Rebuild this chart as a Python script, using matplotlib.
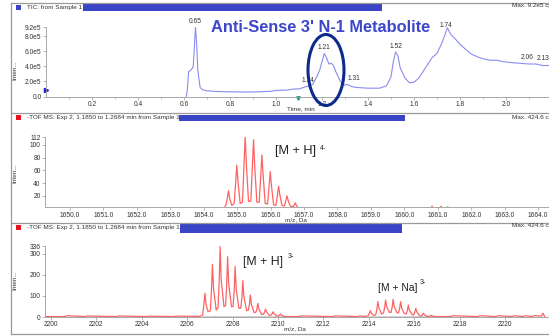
import numpy as np
import matplotlib
matplotlib.use("Agg")
import matplotlib.pyplot as plt
from matplotlib.patches import Rectangle, Ellipse
from matplotlib.lines import Line2D

plt.rcParams['font.family'] = ['Liberation Sans', 'DejaVu Sans']

# TIC chromatogram (time in min, intensity in cps)
tic_time = [0.610, 0.615, 0.620, 0.630, 0.640, 0.645, 0.650, 0.655, 0.660, 0.670,
            0.680, 0.700, 0.750, 0.800, 0.850, 0.900, 0.950, 0.980, 1.000, 1.050,
            1.080, 1.100, 1.140, 1.160, 1.180, 1.190, 1.200, 1.210, 1.220, 1.230,
            1.240, 1.250, 1.260, 1.280, 1.300, 1.310, 1.330, 1.350, 1.400, 1.450,
            1.480, 1.500, 1.510, 1.520, 1.530, 1.540, 1.560, 1.580, 1.600, 1.620,
            1.650, 1.680, 1.700, 1.720, 1.735, 1.745, 1.760, 1.780, 1.800, 1.830,
            1.850, 1.880, 1.900, 1.930, 1.960, 1.990, 2.020, 2.060, 2.100, 2.130,
            2.160, 2.190]
tic_int = [0.0, 1.0, 3.3, 3.5, 3.9, 6.5, 9.2, 7.0, 3.5, 1.2,
           0.9, 0.75, 0.65, 0.62, 0.6, 0.6, 0.65, 0.7, 0.8, 0.85,
           1.0, 1.0, 1.4, 1.6, 2.8, 3.5, 4.6, 5.7, 5.1, 4.3,
           4.4, 4.1, 3.3, 2.0, 1.5, 1.6, 1.3, 1.2, 1.1, 1.1,
           1.4, 2.6, 4.6, 5.9, 5.4, 3.8, 2.5, 1.8, 1.9, 2.4,
           3.8, 5.2, 5.7, 7.0, 8.2, 9.1, 8.2, 7.6, 6.9, 6.1,
           5.6, 5.2, 5.0, 4.8, 4.8, 4.6, 4.5, 4.4, 4.3, 4.3,
           4.1, 4.1]
tic_int = [v * 1e5 for v in tic_int]
tic_peaks = [0.65, 1.14, 1.21, 1.31, 1.52, 1.74, 2.06, 2.13]

# [M + H] 4- isotope cluster
ms4_mz = [1649.30, 1654.60, 1654.66, 1654.70, 1654.74, 1654.78, 1654.84,
          1654.91, 1654.95, 1654.99, 1655.03, 1655.09,
          1655.16, 1655.20, 1655.24, 1655.28, 1655.34,
          1655.41, 1655.45, 1655.49, 1655.53, 1655.59,
          1655.66, 1655.70, 1655.74, 1655.78, 1655.84,
          1655.91, 1655.95, 1655.99, 1656.03, 1656.09,
          1656.16, 1656.20, 1656.24, 1656.28, 1656.34,
          1656.41, 1656.45, 1656.49, 1656.53, 1656.59,
          1656.68, 1656.71, 1656.74, 1656.77, 1656.85,
          1660.80, 1660.83, 1660.86, 1661.08, 1661.10, 1661.12,
          1661.28, 1661.30, 1661.32, 1664.30]
ms4_int = [0, 0, 5, 14, 28, 15, 5,
           8, 36, 68, 40, 8,
           10, 62, 113, 66, 11,
           12, 60, 108, 62, 10,
           10, 46, 84, 50, 8,
           7, 31, 58, 34, 6,
           5, 19, 35, 21, 5,
           4, 11, 20, 12, 4,
           3, 6, 9, 5, 0,
           0, 4, 0, 0, 4, 0,
           0, 3, 0, 0]

# [M + H] 3- and [M + Na] 3- clusters
ms3_mz = [2199.75, 2200.6, 2200.7, 2201.5, 2201.6, 2202.9, 2203.0, 2204.2, 2204.3, 2205.4, 2205.5, 2206.55,
          2206.68, 2206.73, 2206.78, 2206.83, 2206.92,
          2207.02, 2207.07, 2207.11, 2207.16, 2207.28,
          2207.36, 2207.41, 2207.45, 2207.50, 2207.62,
          2207.69, 2207.74, 2207.78, 2207.83, 2207.95,
          2208.02, 2208.07, 2208.11, 2208.16, 2208.28,
          2208.36, 2208.41, 2208.45, 2208.50, 2208.62,
          2208.69, 2208.74, 2208.78, 2208.83, 2208.95,
          2209.02, 2209.07, 2209.11, 2209.16, 2209.28,
          2209.36, 2209.41, 2209.45, 2209.50, 2209.62,
          2209.69, 2209.74, 2209.78, 2209.83, 2209.95,
          2210.02, 2210.07, 2210.11, 2210.16, 2210.30,
          2210.9, 2211.0, 2212.4, 2212.5, 2213.5, 2213.6, 2213.85,
          2213.97, 2214.02, 2214.07, 2214.12, 2214.24,
          2214.31, 2214.36, 2214.40, 2214.45, 2214.57,
          2214.65, 2214.70, 2214.74, 2214.79, 2214.91,
          2214.98, 2215.03, 2215.07, 2215.12, 2215.24,
          2215.31, 2215.36, 2215.40, 2215.45, 2215.57,
          2215.65, 2215.70, 2215.74, 2215.79, 2215.91,
          2215.98, 2216.03, 2216.07, 2216.12, 2216.24,
          2216.31, 2216.36, 2216.40, 2216.45, 2216.57,
          2216.66, 2216.70, 2216.74, 2216.78, 2216.95,
          2217.6, 2217.7, 2218.8, 2218.9, 2219.6, 2219.7, 2220.3, 2220.4,
          2220.8, 2220.9, 2221.2, 2221.3, 2221.60, 2221.67, 2221.75]
ms3_int = [2, 2, 6, 2, 5, 2, 5, 2, 4, 2, 4, 3,
           10, 55, 113, 60, 25,
           30, 130, 251, 135, 33,
           45, 170, 335, 175, 49,
           55, 150, 287, 155, 49,
           50, 125, 240, 130, 41,
           42, 90, 173, 95, 30,
           32, 58, 105, 60, 21,
           22, 37, 65, 38, 12,
           13, 23, 38, 23, 8,
           9, 15, 25, 15, 5,
           5, 9, 14, 8, 2,
           2, 5, 2, 5, 2, 5, 3,
           6, 17, 30, 17, 7,
           12, 40, 73, 42, 14,
           20, 47, 81, 48, 22,
           22, 47, 84, 48, 21,
           20, 42, 73, 42, 16,
           15, 32, 57, 32, 11,
           10, 23, 41, 23, 6,
           5, 10, 18, 10, 3,
           3, 5, 8, 5, 2,
           2, 6, 2, 6, 2, 6, 2, 6,
           2, 6, 2, 7, 4, 18, 2]

W, H = 549, 336
fig = plt.figure(figsize=(W / 100, H / 100), dpi=100)


def fx(x):
    return x / W


def fy(y):
    return 1 - y / H


grey = '#9a9a9a'
txt = '#333333'
bar_blue = '#3a44c6'
red_line = '#ff6262'

# outer frame and panel dividers
for yy in [3, 113, 223, 334]:
    fig.add_artist(Line2D([fx(10.5), 1], [fy(yy), fy(yy)], color=grey, lw=0.9))
fig.add_artist(Line2D([fx(10.5), fx(10.5)], [fy(3), fy(334)], color=grey, lw=0.9))

# headers
headers = [
    ('TIC: from Sample 1', bar_blue, 7, (83, 382), (4, 11), 'Max. 9.2e5 cps', 6),
    ('-TOF MS: Exp 2, 1.1850 to 1.2684 min from Sample 1', '#e8101a', 117, (179, 405), (115, 121), 'Max. 424.6 cps', 117),
    ('-TOF MS: Exp 2, 1.1850 to 1.2684 min from Sample 1', '#e8101a', 227, (180, 402), (224, 233), 'Max. 424.6 cps', 226),
]
for name, sq, ty, (bx0, bx1), (by0, by1), mx, my in headers:
    fig.add_artist(Rectangle((fx(16), fy(ty + 2.5)), fx(5), 5 / H, color=sq, lw=0))
    fig.text(fx(27), fy(ty), name, fontsize=4.6, color=txt, va='center', ha='left')
    fig.add_artist(Rectangle((fx(bx0), fy(by1)), fx(bx1 - bx0), (by1 - by0) / H, color=bar_blue, lw=0))
    fig.text(fx(512), fy(my), mx, fontsize=4.6, color=txt, va='center', ha='left')


def style(ax):
    for s in ['top', 'right']:
        ax.spines[s].set_visible(False)
    for s in ['left', 'bottom']:
        ax.spines[s].set_color(grey)
        ax.spines[s].set_linewidth(0.6)
    ax.tick_params(labelsize=4.8, colors=txt, length=2, width=0.5, pad=1.2)
    ax.tick_params(which='both', color=grey)
    ax.patch.set_alpha(0)


# panel 1: TIC
ax1 = fig.add_axes([fx(46), fy(96.5), 1 - fx(46), (96.5 - 27) / H])
ax1.plot(tic_time, tic_int, color='#8a8cf0', lw=0.8)
ax1.set_xlim(0, (549 - 46) / 230)
ax1.set_ylim(0, 9.2e5)
ax1.set_xticks([0.2, 0.4, 0.6, 0.8, 1.0, 1.2, 1.4, 1.6, 1.8, 2.0])
ax1.set_xticklabels(['0.2', '0.4', '0.6', '0.8', '1.0', '1.2', '1.4', '1.6', '1.8', '2.0'])
ax1.set_xticks(np.arange(0.1, 2.2, 0.2), minor=True)
ax1.set_yticks([0, 2e5, 4e5, 6e5, 8e5, 9.2e5])
ax1.set_yticklabels(['0.0', '2.0e5', '4.0e5', '6.0e5', '8.0e5', '9.2e5'])
ax1.tick_params(which='minor', length=1.2, width=0.5)
style(ax1)
label_shift = {1.31: 5, 2.06: 5, 2.13: 5}
for t in tic_peaks:
    yv = np.interp(t, tic_time, tic_int)
    ax1.annotate(f'{t:.2f}', (t, yv), xytext=(label_shift.get(t, 0), 1.5), textcoords='offset points',
                 ha='center', va='bottom', fontsize=4.8, color=txt)
ax1.plot([0], [0.85e5], marker='>', color='#2020d0', ms=3, clip_on=False)
ax1.plot([1.095], [-0.2e5], marker='v', color='#20a090', ms=2.5, clip_on=False)
fig.text(fx(15), fy(70), 'Inten...', rotation=90, fontsize=4.6, color=txt, ha='center', va='center')
fig.text(fx(301), fy(108.5), 'Time, min', fontsize=4.6, color=txt, ha='center', va='center')

fig.text(fx(211), fy(28), "Anti-Sense 3' N-1 Metabolite", fontsize=11.8, fontweight='bold',
         color='#3c46c9', ha='left', va='center')
fig.add_artist(Ellipse((fx(326), fy(70)), 36 / W, 71 / H, fill=False, edgecolor='#0d2b8c', lw=2.2))

# panel 2: [M + H] 4-
ax2 = fig.add_axes([fx(45), fy(207.3), 1 - fx(45), (207.3 - 136.5) / H])
ax2.plot(ms4_mz, ms4_int, color=red_line, lw=0.9)
ax2.set_xlim(1650 - 25 / 33.43, 1650 + (549 - 70) / 33.43)
ax2.set_ylim(2, 113)
ticks2 = np.arange(1650, 1665, 1.0)
ax2.set_xticks(ticks2)
ax2.set_xticklabels([f'{v:.1f}' for v in ticks2])
ax2.set_yticks([20, 40, 60, 80, 100, 112])
ax2.set_yticklabels(['20', '40', '60', '80', '100', '112'])
style(ax2)
fig.text(fx(15), fy(173), 'Inten...', rotation=90, fontsize=4.6, color=txt, ha='center', va='center')
fig.text(fx(296), fy(220), 'm/z, Da', fontsize=4.6, color=txt, ha='center', va='center')
fig.text(fx(275), fy(151), '[M + H]', fontsize=9.2, color='#222222', ha='left', va='center')
fig.text(fx(320), fy(148), '4-', fontsize=5, color='#222222', ha='left', va='center')

# panel 3: [M + H] 3- and [M + Na] 3-
ax3 = fig.add_axes([fx(45), fy(317), 1 - fx(45), (317 - 246.4) / H])
ax3.hlines(0, 2206.6, 2210.3, color='#cccccc', lw=2)
ax3.hlines(0, 2213.9, 2216.9, color='#cccccc', lw=2)
ax3.plot(ms3_mz, ms3_int, color=red_line, lw=0.9)
ax3.set_xlim(2200 - 6 / 22.7, 2200 + (549 - 51) / 22.7)
ax3.set_ylim(0, 336)
ax3.set_xticks(np.arange(2200, 2221, 2))
ax3.set_yticks([0, 100, 200, 300, 336])
ax3.set_yticklabels(['0', '100', '200', '300', '336'])
style(ax3)
fig.text(fx(15), fy(280), 'Inten...', rotation=90, fontsize=4.6, color=txt, ha='center', va='center')
fig.text(fx(295), fy(329), 'm/z, Da', fontsize=4.6, color=txt, ha='center', va='center')
fig.text(fx(243), fy(262), '[M + H]', fontsize=8.9, color='#222222', ha='left', va='center')
fig.text(fx(288), fy(257), '3-', fontsize=5, color='#222222', ha='left', va='center')
fig.text(fx(378), fy(288), '[M + Na]', fontsize=7.4, color='#222222', ha='left', va='center')
fig.text(fx(420), fy(283), '3-', fontsize=5, color='#222222', ha='left', va='center')

fig.savefig('out.png', dpi=100)
